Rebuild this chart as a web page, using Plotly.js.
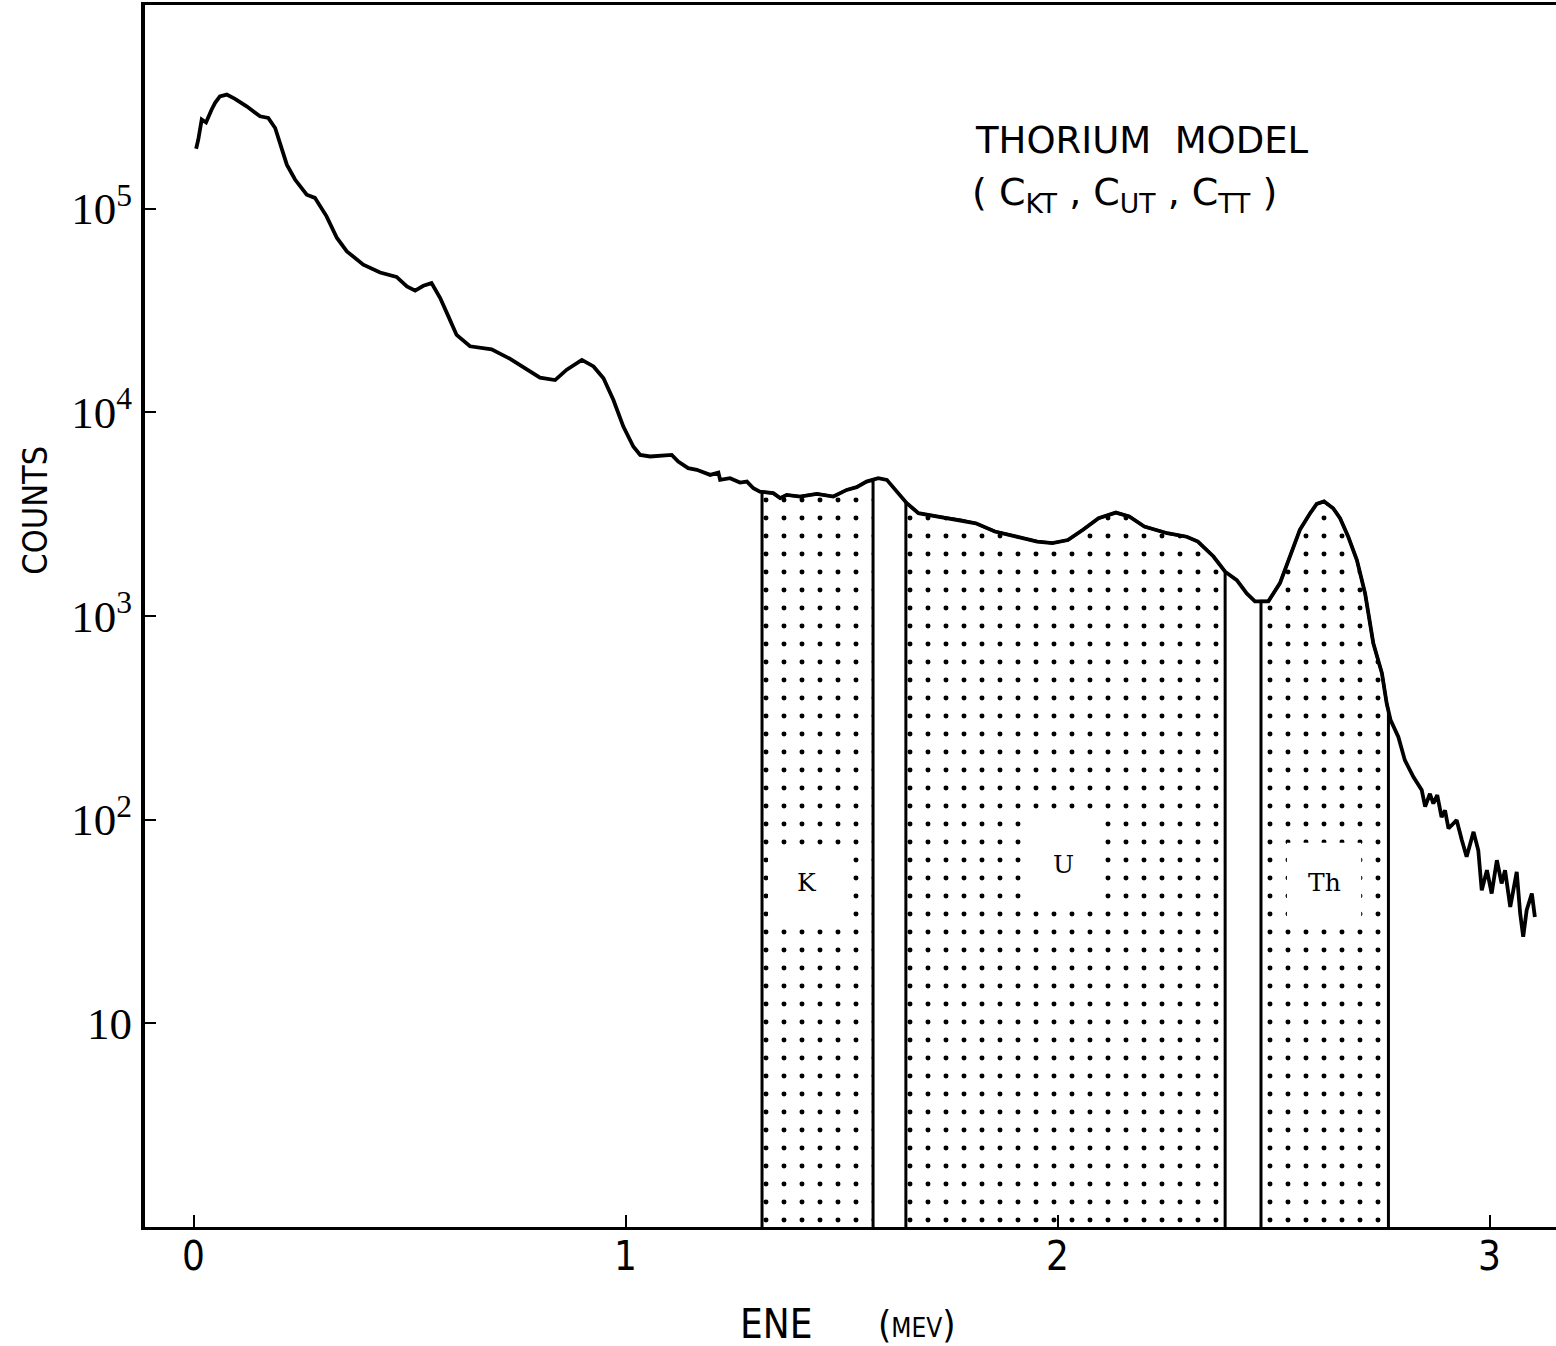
<!DOCTYPE html>
<html>
<head>
<meta charset="utf-8">
<script src="https://cdn.plot.ly/plotly-3.0.1.min.js"></script>
<style>
  html, body { margin: 0; padding: 0; background: #fff; }
  #chart { width: 1556px; height: 1346px; }
</style>
</head>
<body>
<div id="chart"></div>
<script>
// Gamma-ray spectrum of the thorium calibration model (energy in MeV, counts per channel)
const energyMeV = [
  0.006, 0.011, 0.019, 0.029, 0.042, 0.050, 0.061, 0.077, 0.096, 0.123,
  0.154, 0.173, 0.189, 0.200, 0.216, 0.235, 0.262, 0.281, 0.308, 0.332,
  0.355, 0.393, 0.432, 0.470, 0.494, 0.513, 0.532, 0.551, 0.571, 0.590,
  0.609, 0.640, 0.690, 0.733, 0.771, 0.802, 0.837, 0.864, 0.899, 0.926,
  0.949, 0.972, 0.995, 1.018, 1.034, 1.057, 1.107, 1.122, 1.145, 1.165,
  1.196, 1.215, 1.219, 1.242, 1.265, 1.281, 1.296, 1.311, 1.342, 1.358,
  1.373, 1.404, 1.443, 1.481, 1.512, 1.535, 1.558, 1.585, 1.605, 1.628,
  1.651, 1.678, 1.722, 1.776, 1.811, 1.855, 1.900, 1.953, 1.988, 2.024,
  2.059, 2.095, 2.135, 2.166, 2.201, 2.254, 2.299, 2.325, 2.361, 2.388,
  2.415, 2.438, 2.457, 2.488, 2.515, 2.538, 2.561, 2.585, 2.600, 2.617,
  2.638, 2.654, 2.673, 2.693, 2.712, 2.731, 2.751, 2.762, 2.771, 2.789,
  2.804, 2.824, 2.843, 2.851, 2.862, 2.870, 2.879, 2.889, 2.897, 2.905,
  2.924, 2.936, 2.947, 2.963, 2.974, 2.982, 2.994, 3.005, 3.017, 3.028,
  3.036, 3.048, 3.063, 3.071, 3.078, 3.086, 3.098, 3.105
];
const counts = [
  197000, 218000, 274000, 265000, 307000, 331000, 356000, 363000, 346000, 318000,
  284000, 279000, 249000, 210000, 164500, 139000, 117000, 113000, 91700, 71800,
  61700, 53100, 48600, 46200, 41500, 39600, 41800, 43100, 36400, 29600,
  24000, 21100, 20400, 18300, 16200, 14800, 14400, 16200, 18100, 16800,
  14700, 11500, 8510, 6790, 6180, 6070, 6180, 5730, 5320, 5220,
  4930, 5060, 4660, 4750, 4520, 4570, 4240, 4080, 4010, 3790,
  3930, 3860, 3980, 3860, 4160, 4290, 4570, 4750, 4660, 4080,
  3580, 3200, 3080, 2960, 2850, 2600, 2470, 2320, 2280, 2360,
  2650, 3020, 3220, 3080, 2750, 2550, 2450, 2320, 1960, 1650,
  1500, 1290, 1180, 1180, 1450, 1960, 2650, 3200, 3550, 3650,
  3380, 3020, 2450, 1880, 1290, 734, 523, 372, 308, 255,
  196, 162, 140, 116, 134, 120, 132, 103, 111, 90.5,
  99.4, 79.3, 65.7, 87.1, 70.8, 45.0, 56.5, 43.4, 63.2, 48.6,
  56.5, 37.3, 55.4, 34.6, 26.6, 35.9, 43.4, 33.3
];

// Counting windows (MeV)
const windowNames = ['K', 'U', 'Th'];
const windowLo = [1.316, 1.649, 2.471];
const windowHi = [1.573, 2.388, 2.766];

// Axis ticks
const xTickVals = [0, 1, 2, 3];
const xTickText = ['0', '1', '2', '3'];
const yTickVals = [10, 100, 1000, 10000, 100000];
const yTickText = ['10', '10<sup>2</sup>', '10<sup>3</sup>', '10<sup>4</sup>', '10<sup>5</sup>'];

// Spectrum value at an arbitrary energy (log-linear between channels)
function countsAt(e) {
  for (let i = 0; i < energyMeV.length - 1; i++) {
    const e0 = energyMeV[i], e1 = energyMeV[i + 1];
    if (e >= e0 && e <= e1) {
      const t = (e - e0) / (e1 - e0);
      return Math.pow(10, Math.log10(counts[i]) * (1 - t) + Math.log10(counts[i + 1]) * t);
    }
  }
  return counts[counts.length - 1];
}

const BASE = 1;   // bottom of the log axis
const traces = [];

// Dotted window areas, bounded by the spectrum
windowNames.forEach((name, k) => {
  const lo = windowLo[k], hi = windowHi[k];
  const xs = [lo, lo], ys = [BASE, countsAt(lo)];
  energyMeV.forEach((e, i) => { if (e > lo && e < hi) { xs.push(e); ys.push(counts[i]); } });
  xs.push(hi, hi); ys.push(countsAt(hi), BASE);
  traces.push({
    type: 'scatter', mode: 'lines', name: name + ' window',
    x: xs, y: ys, fill: 'toself',
    fillpattern: { shape: '.', size: 18, solidity: 0.06, fgcolor: '#000', bgcolor: '#fff', fillmode: 'replace' },
    line: { color: '#000', width: 3 },
    hoverinfo: 'skip', showlegend: false
  });
});

// Spectrum
traces.push({
  type: 'scatter', mode: 'lines', name: 'spectrum',
  x: energyMeV, y: counts,
  line: { color: '#000', width: 3.8 },
  showlegend: false
});

// Clear boxes behind the window labels, placed below the spectrum inside each window
const labelBoxes = [
  { x0: 1.330, x1: 1.510, y0: 30, y1: 70, ty: 49 },
  { x0: 1.943, x1: 2.087, y0: 36.7, y1: 101.7, ty: 60 },
  { x0: 2.531, x1: 2.703, y0: 30, y1: 77, ty: 49 }
];

const shapes = labelBoxes.map(b => ({
  type: 'rect', xref: 'x', yref: 'y', layer: 'above',
  x0: b.x0, x1: b.x1, y0: b.y0, y1: b.y1,
  fillcolor: '#fff', line: { width: 0 }
}));

const annotations = windowNames.map((name, k) => ({
  xref: 'x', yref: 'y', xanchor: 'center', yanchor: 'middle',
  x: (labelBoxes[k].x0 + labelBoxes[k].x1) / 2,
  y: Math.log10(labelBoxes[k].ty),
  text: name, showarrow: false,
  font: { family: 'DejaVu Serif', size: 25, color: '#000' }
}));

const narrowSans = 'Liberation Sans Narrow, DejaVu Sans Condensed, DejaVu Sans';

annotations.push(
  {
    xref: 'paper', yref: 'paper', x: -0.078, y: 0.587, textangle: -90,
    xanchor: 'center', yanchor: 'middle',
    text: 'COUNTS', showarrow: false,
    font: { family: narrowSans, size: 34, color: '#000' }
  },
  {
    xref: 'paper', yref: 'paper', x: 0.4475, y: -0.079,
    xanchor: 'center', yanchor: 'middle',
    text: 'ENE', showarrow: false,
    font: { family: narrowSans, size: 40, color: '#000' }
  },
  {
    xref: 'paper', yref: 'paper', x: 0.547, y: -0.079,
    xanchor: 'center', yanchor: 'middle',
    text: '(<span style="font-size:26px">MEV</span>)', showarrow: false,
    font: { family: narrowSans, size: 38, color: '#000' }
  },
  {
    xref: 'paper', yref: 'paper', x: 0.7066, y: 0.8895,
    xanchor: 'center', yanchor: 'middle',
    text: 'THORIUM  MODEL', showarrow: false,
    font: { family: 'DejaVu Sans', size: 37, color: '#000' }
  },
  {
    xref: 'paper', yref: 'paper', x: 0.6945, y: 0.845,
    xanchor: 'center', yanchor: 'middle',
    text: '( C<sub>KT</sub> , C<sub>UT</sub> , C<sub>TT</sub> )', showarrow: false,
    font: { family: 'DejaVu Sans', size: 38, color: '#000' }
  }
);

const layout = {
  width: 1556, height: 1346,
  margin: { l: 145, r: 0, t: 5, b: 119 },
  paper_bgcolor: '#fff', plot_bgcolor: '#fff',
  showlegend: false,
  xaxis: {
    range: [-0.1123, 3.1539],
    showgrid: false, zeroline: false,
    showline: true, linecolor: '#000', linewidth: 3, mirror: true,
    ticks: 'inside', ticklen: 12, tickwidth: 2, tickcolor: '#000',
    tickvals: xTickVals, ticktext: xTickText, ticklabelstandoff: -8,
    tickfont: { family: narrowSans, size: 40, color: '#000' }
  },
  yaxis: {
    type: 'log', range: [0, 6],
    showgrid: false, zeroline: false,
    showline: true, linecolor: '#000', linewidth: 4,
    ticks: 'inside', ticklen: 11, tickwidth: 2, tickcolor: '#000',
    tickvals: yTickVals, ticktext: yTickText,
    tickfont: { family: 'Liberation Serif', size: 45, color: '#000' }
  },
  shapes: shapes,
  annotations: annotations
};

Plotly.newPlot('chart', traces, layout, { staticPlot: true, displayModeBar: false });
</script>
</body>
</html>
